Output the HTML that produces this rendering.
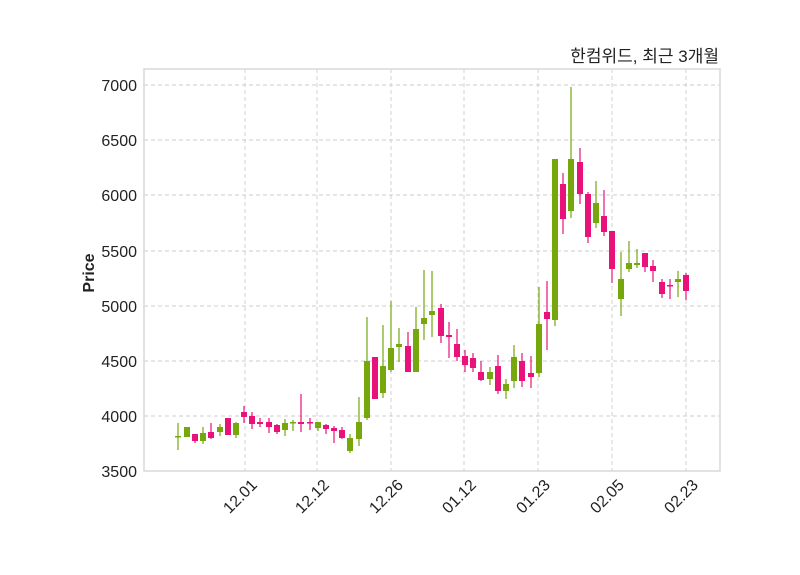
<!DOCTYPE html>
<html><head><meta charset="utf-8"><style>
body{margin:0;background:#fff;}
svg{display:block;font-family:"Liberation Sans","Noto Sans CJK KR",sans-serif;}
</style></head><body>
<svg id="s" width="800" height="575" xmlns="http://www.w3.org/2000/svg">
<rect width="800" height="575" fill="#fff"/>
<g stroke="#cccccc" stroke-dasharray="4,3" stroke-width="0.9">
<line x1="144" x2="720" y1="85" y2="85"/><line x1="144" x2="720" y1="140" y2="140"/>
<line x1="144" x2="720" y1="195" y2="195"/><line x1="144" x2="720" y1="251" y2="251"/>
<line x1="144" x2="720" y1="306" y2="306"/><line x1="144" x2="720" y1="361" y2="361"/>
<line x1="144" x2="720" y1="416" y2="416"/>
<line x1="245" x2="245" y1="69" y2="471"/><line x1="317" x2="317" y1="69" y2="471"/>
<line x1="391" x2="391" y1="69" y2="471"/><line x1="464" x2="464" y1="69" y2="471"/>
<line x1="538" x2="538" y1="69" y2="471"/><line x1="612" x2="612" y1="69" y2="471"/>
<line x1="686" x2="686" y1="69" y2="471"/>
</g>
<g id="c"></g>
<rect x="144" y="69" width="576" height="402" fill="none" stroke="#d9d9d9" stroke-width="1.5"/>
<g font-size="16" fill="#222" text-anchor="end">
<text x="137" y="91">7000</text><text x="137" y="146">6500</text><text x="137" y="201">6000</text>
<text x="137" y="257">5500</text><text x="137" y="312">5000</text><text x="137" y="367">4500</text>
<text x="137" y="422">4000</text><text x="137" y="477">3500</text>
</g>
<g font-size="16" fill="#222" text-anchor="end">
<text transform="translate(258,486) rotate(-45)">12.01</text>
<text transform="translate(330,486) rotate(-45)">12.12</text>
<text transform="translate(404,486) rotate(-45)">12.26</text>
<text transform="translate(477,486) rotate(-45)">01.12</text>
<text transform="translate(551,486) rotate(-45)">01.23</text>
<text transform="translate(625,486) rotate(-45)">02.05</text>
<text transform="translate(699,486) rotate(-45)">02.23</text>
</g>
<text transform="translate(94,273) rotate(-90)" font-size="16" font-weight="bold" fill="#222" text-anchor="middle">Price</text>
<text x="719" y="62" font-size="17" fill="#222" text-anchor="end">한컴위드, 최근 3개월</text>
</svg>
<script>
var G='#76a80e',P='#e8127a';
var d=[
[178,G,423,450,436,437],[187,G,427,437,427,437],[195,P,434,443,434,441],[203,G,427,444,433,441],
[211,P,423,439,432,438],[220,G,424,436,427,432],[228,P,418,435,418,435],[236,G,422,438,423,435],
[244,P,406,423,412,417],[252,P,412,429,416,424],[260,P,418,427,422,424],[269,P,418,433,422,427],
[277,P,424,434,425,432],[285,G,419,436,423,430],[293,G,420,431,422,423],[301,P,394,432,422,424],
[310,P,418,430,422,423],[318,G,422,431,422,428],[326,P,424,434,425,429],[334,P,426,443,428,431],
[342,P,427,439,430,438],[350,G,434,453,438,451],[359,G,397,446,422,439],
[367,G,317,420,361,418],[375,P,357,399,357,399],[383,G,325,398,366,393],[391,G,301,372,348,370],
[399,G,328,362,344,347],[408,P,332,372,346,372],[416,G,307,372,329,372],[424,G,270,340,318,324],
[432,G,271,337,311,315],[441,P,304,343,308,336],[449,P,322,358,335,337],[457,P,329,361,344,357],
[465,P,350,372,356,365],[473,P,353,372,358,368],[481,P,361,381,372,380],[490,G,367,385,372,379],
[498,P,355,394,366,391],[506,G,379,399,384,391],[514,G,345,388,357,381],[522,P,353,387,361,381],
[531,P,356,388,373,377],[539,G,287,377,324,373],
[547,P,281,350,312,319],[555,G,159,326,159,320],[563,P,173,234,184,219],[571,G,87,218,159,211],
[580,P,148,204,162,194],[588,P,192,243,194,237],[596,G,181,228,203,223],[604,P,190,236,216,232],
[612,P,231,283,231,269],[621,G,252,316,279,299],[629,G,241,272,263,269],[637,G,249,268,263,265],
[645,P,253,272,253,267],[653,P,260,282,266,271],[662,P,279,298,282,294],[670,P,279,299,285,286],
[678,G,271,297,279,282],[686,P,273,300,275,291]];
var s='';
d.forEach(function(c){var x=c[0],h=Math.max(c[5]-c[4],1.5);
s+='<line x1="'+x+'" x2="'+x+'" y1="'+c[2]+'" y2="'+c[3]+'" stroke="'+c[1]+'" stroke-width="1.2"/>';
s+='<rect x="'+(x-3)+'" y="'+c[4]+'" width="6" height="'+h+'" fill="'+c[1]+'"/>';});
document.getElementById('c').innerHTML=s;
</script>
</body></html>
